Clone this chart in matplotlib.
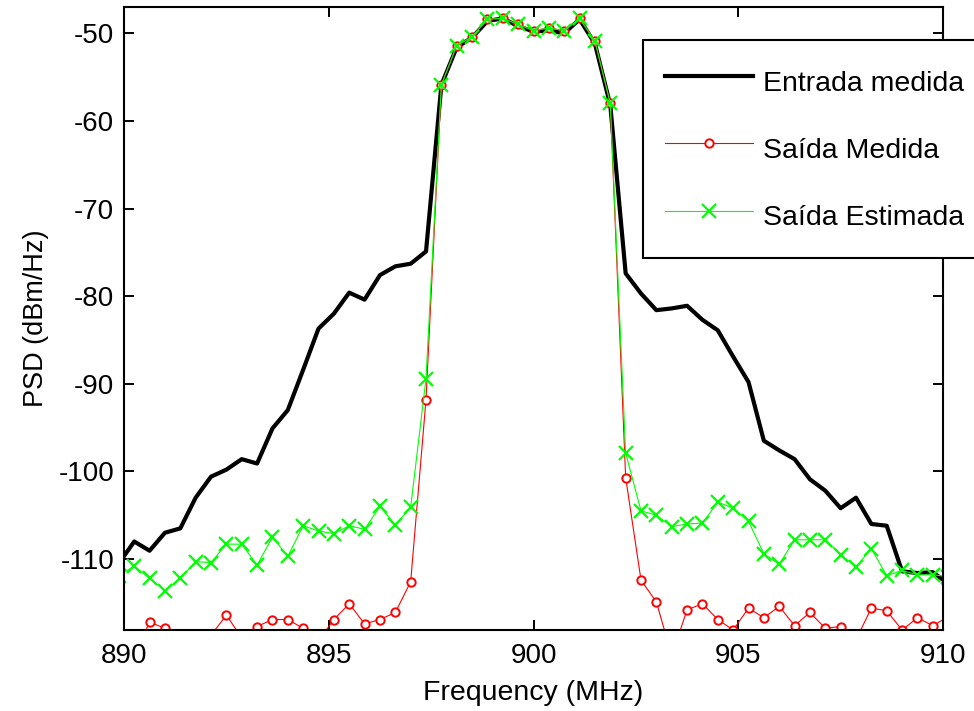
import numpy as np
import matplotlib
matplotlib.use("Agg")
import matplotlib.pyplot as plt

plt.rcParams['font.family'] = ['Liberation Sans', 'DejaVu Sans']
plt.rcParams['axes.unicode_minus'] = False

# uniform frequency grid (MHz), one sample before 890 and one after 910
freq = 890.25 + 0.375 * np.arange(-1, 54)

entrada_medida = [
    -110.5, -108.0, -109.05, -107.0, -106.5, -103.0, -100.6, -99.8, -98.6, -99.1,
    -95.1, -93.0, -88.4, -83.7, -82.0, -79.6, -80.4, -77.6, -76.6, -76.3,
    -74.9, -55.9, -51.6, -50.5, -48.6, -48.3, -49.2, -49.8, -49.7, -50.0,
    -48.4, -51.2, -58.2, -77.4, -79.7, -81.6, -81.4, -81.1, -82.7, -83.9,
    -86.9, -89.8, -96.5, -97.6, -98.6, -100.9, -102.2, -104.2, -103.0, -106.0,
    -106.2, -111.4, -111.6, -111.5, -112.8,
]

saida_medida = [
    -120.5, -121.0, -117.2, -117.9, -120.5, -121.5, -118.7, -116.4, -119.0, -117.7,
    -116.9, -116.9, -117.9, -119.3, -116.9, -115.1, -117.4, -116.9, -116.1, -112.6,
    -91.8, -55.9, -51.4, -50.4, -48.4, -48.3, -49.0, -49.7, -49.4, -49.7,
    -48.3, -50.9, -58.0, -100.7, -112.4, -114.9, -121.0, -115.8, -115.1, -116.9,
    -118.1, -115.6, -116.7, -115.4, -117.6, -116.1, -117.9, -117.7, -119.2, -115.6,
    -115.9, -118.1, -116.7, -117.6, -116.6,
]

saida_estimada = [
    -111.9, -110.8, -112.2, -113.6, -112.2, -110.3, -110.4, -108.3, -108.3, -110.7,
    -107.5, -109.7, -106.2, -106.8, -107.1, -106.2, -106.6, -104.0, -106.1, -104.1,
    -89.4, -55.9, -51.4, -50.4, -48.4, -48.3, -49.0, -49.7, -49.4, -49.7,
    -48.3, -50.9, -58.0, -97.9, -104.5, -105.0, -106.3, -106.0, -105.9, -103.5,
    -104.2, -105.7, -109.4, -110.6, -107.8, -107.8, -107.8, -109.5, -110.9, -108.8,
    -111.9, -111.3, -111.8, -111.8, -112.0,
]

xticks = [890, 895, 900, 905, 910]
yticks = [-110, -100, -90, -80, -70, -60, -50]

fig = plt.figure(figsize=(9.74, 7.11), dpi=100)
ax = fig.add_axes([0.1273, 0.1139, 0.8409, 0.8763])

ax.plot(freq, entrada_medida, color='k', lw=3.0, label='Entrada medida')
ax.plot(freq, saida_medida, color='r', lw=0.8, marker='o', ms=6,
        mfc='white', mec='r', mew=1.4, label='Saída Medida')
ax.plot(freq, saida_estimada, color=(0, 1, 0), lw=0.8, marker='x', ms=10,
        mec=(0, 1, 0), mew=1.6, label='Saída Estimada')

ax.set_xlim(890, 910)
ax.set_ylim(-118.1, -47)
ax.set_xticks(xticks)
ax.set_yticks(yticks)
ax.tick_params(direction='in', length=7, width=1.4, labelsize=20,
               top=True, right=True)
ax.tick_params(axis='x', pad=9)
ax.tick_params(axis='y', pad=7)
for s in ax.spines.values():
    s.set_linewidth(1.5)

ax.set_xlabel('Frequency (MHz)', fontsize=20.5, labelpad=8)
ax.set_ylabel('PSD (dBm/Hz)', fontsize=19.5, labelpad=7)

leg = ax.legend(loc='upper left', bbox_to_anchor=(0.634, 0.947), fontsize=20.5,
                fancybox=False, framealpha=1, edgecolor='k', handlelength=3.1,
                handleheight=1.8, handletextpad=0.35, labelspacing=0.95,
                borderpad=0.75, borderaxespad=0)
leg.get_frame().set_linewidth(1.5)

fig.savefig('out.png', dpi=100)
